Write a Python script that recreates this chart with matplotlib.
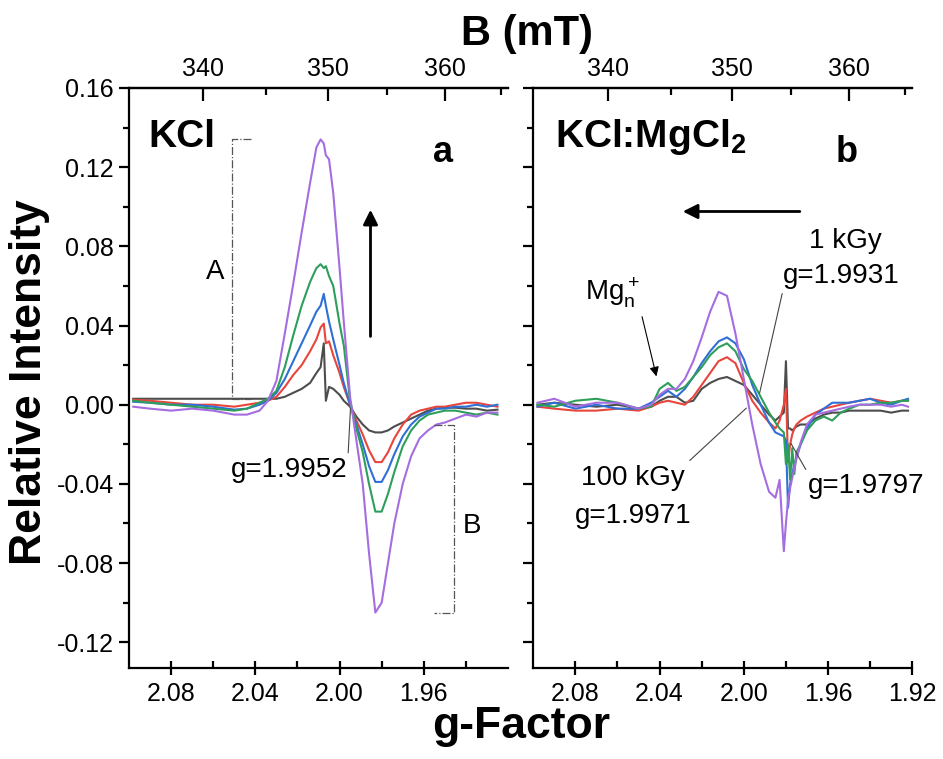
import numpy as np
import matplotlib.pyplot as plt
from matplotlib.ticker import FixedLocator, MultipleLocator

plt.rcParams['font.family'] = 'Liberation Sans'
plt.rcParams['mathtext.fontset'] = 'custom'
plt.rcParams['mathtext.rm'] = 'Liberation Sans'
plt.rcParams['mathtext.bf'] = 'Liberation Sans:bold'

# ---- panel a: KCl ----
g_a = [2.098, 2.090, 2.080, 2.070, 2.060, 2.050, 2.044, 2.038, 2.034, 2.030,
       2.026, 2.022, 2.018, 2.014, 2.011, 2.009, 2.0075, 2.0065, 2.005, 2.003,
       2.000, 1.998, 1.995, 1.992, 1.989, 1.986, 1.983, 1.980, 1.977, 1.974,
       1.970, 1.966, 1.962, 1.958, 1.954, 1.950, 1.945, 1.940, 1.935, 1.930, 1.925]
gray_a = [0.003, 0.003, 0.003, 0.003, 0.003, 0.003, 0.003, 0.003, 0.003, 0.003,
          0.004, 0.006, 0.008, 0.011, 0.016, 0.019, 0.031, 0.002, 0.009, 0.008,
          0.005, 0.002, -0.001, -0.006, -0.010, -0.013, -0.014, -0.014, -0.013, -0.011,
          -0.009, -0.007, -0.005, -0.003, -0.002, -0.0015, -0.0015, -0.002, -0.002, -0.003, -0.0025]
red_a = [0.0025, 0.002, 0.001, 0.000, 0.000, -0.001, 0.000, 0.001, 0.002, 0.004,
         0.009, 0.015, 0.020, 0.027, 0.033, 0.039, 0.041, 0.031, 0.032, 0.025,
         0.016, 0.009, 0.000, -0.008, -0.015, -0.023, -0.029, -0.029, -0.024, -0.017,
         -0.010, -0.005, -0.003, -0.002, -0.001, -0.001, 0.000, 0.001, 0.001, 0.000, -0.001]
blue_a = [0.0015, 0.001, 0.000, 0.000, -0.001, -0.0025, -0.002, 0.000, 0.002, 0.006,
          0.013, 0.022, 0.031, 0.040, 0.047, 0.050, 0.056, 0.050, 0.042, 0.033,
          0.020, 0.011, 0.000, -0.010, -0.020, -0.031, -0.039, -0.039, -0.033, -0.025,
          -0.016, -0.010, -0.006, -0.004, -0.002, -0.002, -0.001, -0.001, 0.000, -0.001, 0.000]
green_a = [0.002, 0.001, 0.000, -0.001, -0.002, -0.003, -0.002, 0.001, 0.003, 0.007,
           0.019, 0.035, 0.050, 0.062, 0.069, 0.071, 0.069, 0.070, 0.065, 0.060,
           0.041, 0.030, 0.002, -0.012, -0.024, -0.040, -0.054, -0.054, -0.045, -0.034,
           -0.021, -0.013, -0.008, -0.005, -0.004, -0.003, -0.003, -0.004, -0.005, -0.004, -0.005]
purple_a = [-0.001, -0.002, -0.003, -0.002, -0.003, -0.005, -0.005, -0.003, 0.002, 0.012,
            0.036, 0.061, 0.087, 0.112, 0.130, 0.134, 0.132, 0.126, 0.124, 0.107,
            0.069, 0.042, 0.004, -0.018, -0.040, -0.075, -0.105, -0.100, -0.080, -0.060,
            -0.040, -0.026, -0.017, -0.013, -0.010, -0.009, -0.007, -0.005, -0.006, -0.004, -0.004]

# ---- panel b: KCl:MgCl2 ----
g_b = [2.098, 2.090, 2.080, 2.070, 2.060, 2.050, 2.044, 2.040, 2.036, 2.032,
       2.028, 2.024, 2.020, 2.016, 2.012, 2.008, 2.004, 2.000, 1.996, 1.992,
       1.988, 1.985, 1.983, 1.981, 1.980, 1.979, 1.978, 1.977, 1.976, 1.975,
       1.973, 1.970, 1.966, 1.962, 1.958, 1.954, 1.950, 1.945, 1.940, 1.935,
       1.930, 1.925, 1.922]
gray_b = [0.000, 0.001, 0.000, -0.001, 0.000, -0.002, -0.001, 0.002, 0.004, 0.004,
          0.001, 0.002, 0.008, 0.011, 0.013, 0.014, 0.012, 0.010, 0.005, 0.000,
          -0.005, -0.008, -0.006, -0.004, 0.022, -0.012, -0.012, -0.013, -0.012, -0.011,
          -0.010, -0.010, -0.007, -0.005, -0.004, -0.004, -0.003, -0.003, -0.003, -0.003,
          -0.004, -0.003, -0.003]
red_b = [-0.001, -0.002, -0.003, -0.003, -0.002, -0.003, -0.001, 0.001, 0.002, 0.001,
         0.000, 0.004, 0.010, 0.016, 0.022, 0.024, 0.021, 0.011, 0.002, -0.004,
         -0.009, -0.012, -0.008, 0.000, 0.008, -0.029, -0.020, -0.015, -0.012, -0.010,
         -0.008, -0.006, -0.004, -0.002, -0.001, 0.000, 0.001, 0.002, 0.003, 0.002,
         0.001, 0.002, 0.002]
blue_b = [-0.001, 0.001, -0.002, 0.000, -0.002, -0.002, 0.001, 0.004, 0.007, 0.004,
          0.008, 0.014, 0.021, 0.027, 0.032, 0.034, 0.031, 0.023, 0.010, 0.000,
          -0.009, -0.014, -0.015, -0.016, -0.018, -0.052, -0.040, -0.035, -0.030, -0.027,
          -0.020, -0.012, -0.005, -0.002, 0.001, 0.001, 0.001, 0.002, 0.003, 0.001,
          0.000, 0.002, 0.003]
green_b = [0.000, -0.001, 0.002, 0.003, 0.001, -0.002, -0.001, 0.008, 0.011, 0.007,
           0.009, 0.014, 0.019, 0.025, 0.029, 0.031, 0.027, 0.018, 0.012, 0.004,
           -0.004, -0.009, -0.012, -0.014, -0.030, -0.020, -0.038, -0.022, -0.035, -0.024,
           -0.020, -0.013, -0.008, -0.006, -0.008, -0.004, -0.002, 0.000, 0.000, 0.001,
           0.001, 0.002, 0.002]
purple_b = [0.001, 0.003, -0.001, 0.001, 0.001, -0.002, 0.000, 0.005, 0.008, 0.008,
            0.013, 0.022, 0.034, 0.047, 0.057, 0.055, 0.036, 0.013, -0.010, -0.030,
            -0.044, -0.047, -0.038, -0.074, -0.060, -0.048, -0.042, -0.037, -0.032, -0.027,
            -0.019, -0.010, -0.005, -0.004, -0.003, -0.002, -0.001, 0.000, 0.000, 0.000,
            -0.001, 0.000, -0.001]

colors = ['#4d4d4d', '#e8453c', '#2f6fd6', '#2e9e5b', '#a56de0']
C_B = 702.0  # B (mT) * g


def g_to_B(g):
    return C_B / np.asarray(g, dtype=float)


def B_to_g(B):
    return C_B / np.asarray(B, dtype=float)


def style(ax, show_ylabels, xmajor, xminor):
    ax.set_xlim(2.10, 1.92)
    ax.set_ylim(-0.133, 0.16)
    ax.spines['right'].set_visible(False)
    for s in ['left', 'bottom', 'top']:
        ax.spines[s].set_linewidth(1.6)
    ax.xaxis.set_major_locator(FixedLocator(xmajor))
    ax.xaxis.set_minor_locator(FixedLocator(xminor))
    ax.yaxis.set_major_locator(MultipleLocator(0.04))
    ax.yaxis.set_minor_locator(MultipleLocator(0.02))
    ax.xaxis.set_major_formatter(plt.FuncFormatter(lambda v, p: '%.2f' % v))
    ax.yaxis.set_major_formatter(plt.FuncFormatter(lambda v, p: '%.2f' % v))
    ax.tick_params(axis='x', which='major', direction='inout', length=10, width=1.6,
                   labelsize=18, pad=5, top=False)
    ax.tick_params(axis='x', which='minor', direction='in', length=5, width=1.6, top=False)
    ax.tick_params(axis='y', which='major', direction='out', length=7, width=1.6,
                   labelsize=18, pad=4, labelleft=show_ylabels, right=False)
    ax.tick_params(axis='y', which='minor', direction='out', length=4, width=1.6, right=False)
    sec = ax.secondary_xaxis('top', functions=(g_to_B, B_to_g))
    sec.xaxis.set_major_locator(FixedLocator([340, 350, 360]))
    sec.xaxis.set_minor_locator(FixedLocator([345, 355, 365]))
    sec.spines['top'].set_linewidth(1.6)
    sec.tick_params(which='major', direction='in', length=9, width=1.6, labelsize=18, pad=5)
    sec.tick_params(which='minor', direction='in', length=5, width=1.6)


fig = plt.figure(figsize=(9.43, 7.59), dpi=100)
axa = fig.add_axes([0.1368, 0.1199, 0.4019, 0.7642])
axb = fig.add_axes([0.5655, 0.1199, 0.4019, 0.7642])

for ys, c in zip([gray_a, red_a, blue_a, green_a, purple_a], colors):
    axa.plot(g_a, ys, color=c, lw=1.5)
for ys, c in zip([gray_b, red_b, blue_b, green_b, purple_b], colors):
    axb.plot(g_b, ys, color=c, lw=1.5)

style(axa, True, [2.08, 2.04, 2.00, 1.96], [2.06, 2.02, 1.98, 1.94])
style(axb, False, [2.08, 2.04, 2.00, 1.96, 1.92], [2.06, 2.02, 1.98, 1.94])

# ---- panel a annotations ----
axa.text(0.05, 0.898, 'KCl', transform=axa.transAxes, fontsize=28, fontweight='bold',
         va='baseline', ha='left')
axa.text(0.828, 0.873, 'a', transform=axa.transAxes, fontsize=26, fontweight='bold',
         va='baseline', ha='center')
top_a = max(purple_a)
base_a = gray_a[0]
axa.plot([2.0419, 2.051, 2.051, 2.0419], [top_a, top_a, base_a, base_a],
         color='#555555', lw=0.9, ls='-.')
axa.text(2.059, 0.067, 'A', fontsize=20, ha='center', va='center')
bot_a = min(purple_a)
axa.plot([1.9551, 1.9456, 1.9456, 1.9551], [-0.0101, -0.0101, bot_a, bot_a],
         color='#555555', lw=0.9, ls='-.')
axa.text(1.937, -0.0615, 'B', fontsize=20, ha='center', va='center')
axa.annotate('', xy=(1.9853, 0.0985), xytext=(1.9853, 0.0345),
             arrowprops=dict(arrowstyle='-|>', color='k', lw=2, mutation_scale=22,
                             shrinkA=0, shrinkB=0))
axa.annotate('g=1.9952', xy=(1.9948, -0.0017), xytext=(2.0237, -0.033),
             fontsize=20, ha='center', va='center',
             arrowprops=dict(arrowstyle='-', color='#444444', lw=0.8,
                             relpos=(1.0, 1.0), shrinkA=1, shrinkB=0))

# ---- panel b annotations ----
axb.text(0.057, 0.898, r'KCl:MgCl$_\mathbf{2}$', transform=axb.transAxes, fontsize=28,
         fontweight='bold', va='baseline', ha='left')
axb.text(0.828, 0.873, 'b', transform=axb.transAxes, fontsize=26, fontweight='bold',
         va='baseline', ha='center')
axb.annotate('', xy=(2.029, 0.0976), xytext=(1.9734, 0.0976),
             arrowprops=dict(arrowstyle='-|>', color='k', lw=2, mutation_scale=22,
                             shrinkA=0, shrinkB=0))
axb.text(1.952, 0.0825, '1 kGy', fontsize=20, ha='center', va='center')
axb.annotate('g=1.9931', xy=(1.9925, 0.0059), xytext=(1.9536, 0.0648),
             fontsize=20, ha='center', va='center',
             arrowprops=dict(arrowstyle='-', color='#444444', lw=0.8,
                             relpos=(0.0, 0.0), shrinkA=1, shrinkB=0))
axb.annotate(r'Mg$_\mathrm{n}^+$', xy=(2.0415, 0.0143), xytext=(2.0622, 0.0566),
             fontsize=20, ha='center', va='center',
             arrowprops=dict(arrowstyle='-|>', color='k', lw=0.8, mutation_scale=14,
                             relpos=(1.0, 0.0), shrinkA=3, shrinkB=0))
axb.annotate('100 kGy', xy=(1.9988, -0.0017), xytext=(2.0526, -0.037),
             fontsize=20, ha='center', va='center',
             arrowprops=dict(arrowstyle='-', color='#444444', lw=0.8,
                             relpos=(1.0, 1.0), shrinkA=2, shrinkB=0))
axb.text(2.0526, -0.0564, 'g=1.9971', fontsize=20, ha='center', va='center')
axb.annotate('g=1.9797', xy=(1.9777, -0.0194), xytext=(1.9695, -0.0413),
             fontsize=20, ha='left', va='center', annotation_clip=False,
             arrowprops=dict(arrowstyle='-', color='#444444', lw=0.8,
                             relpos=(0.0, 1.0), shrinkA=1, shrinkB=0))

# ---- axis titles ----
fig.text(0.031, 0.497, 'Relative Intensity', rotation=90, fontsize=32,
         fontweight='bold', ha='center', va='center')
fig.text(0.553, 0.028, 'g-Factor', fontsize=32, fontweight='bold',
         ha='center', va='baseline')
fig.text(0.559, 0.955, 'B (mT)', fontsize=30, fontweight='bold',
         ha='center', va='center')

fig.savefig('out.png', dpi=100)
